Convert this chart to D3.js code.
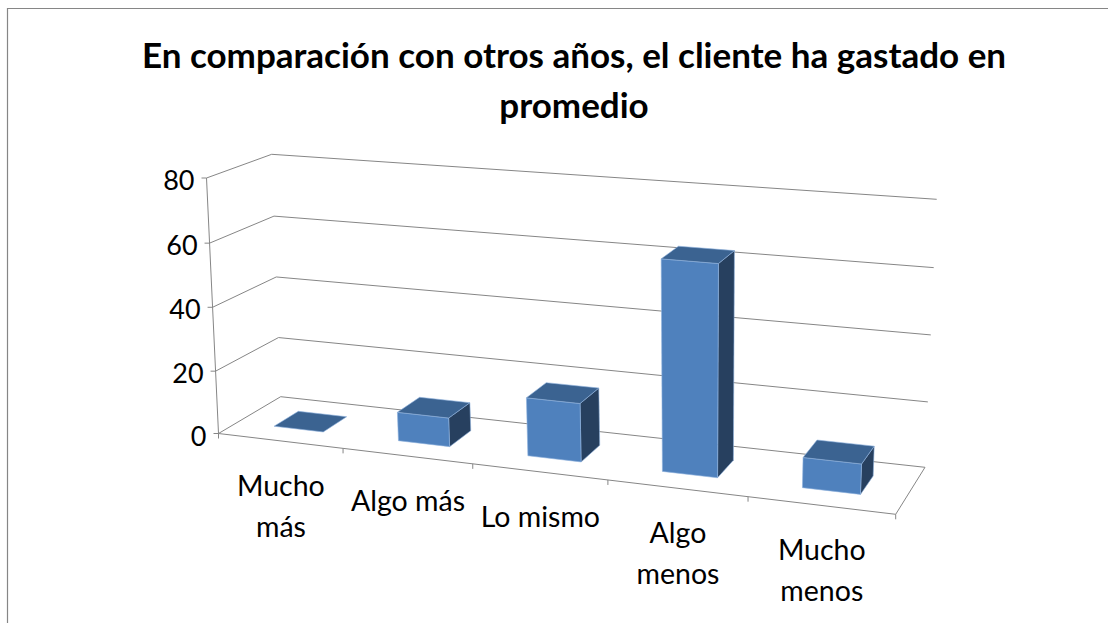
<!DOCTYPE html>
<html><head><meta charset="utf-8">
<script src="https://cdn.jsdelivr.net/npm/d3@7"></script>
<style>html,body{margin:0;padding:0;background:#fff}svg{display:block}text{font-family:Lato,"Open Sans",sans-serif;fill:#000}</style>
</head><body><svg id="c" width="1108" height="623"></svg>
<script>
const categories = ["Mucho más","Algo más","Lo mismo","Algo menos","Mucho menos"];
const categoryLines = [["Mucho","más"],["Algo más"],["Lo mismo"],["Algo","menos"],["Mucho","menos"]];
const values = [0,9,18,63.5,9];
const tickValues = [0,20,40,60,80];
const titleLines = ["En comparación con otros años, el cliente ha gastado en","promedio"];

const floorQuad = [[218.5,433.5],[895.7,514.3],[925,467.3],[280.7,396.7]];
const topQuad   = [[206.5,178],[909,231],[936.7,199.3],[271.7,154.3]];

function squareToQuad(q){
  const [[x0,y0],[x1,y1],[x2,y2],[x3,y3]]=q;
  const dx1=x1-x2,dx2=x3-x2,sx=x0-x1+x2-x3,dy1=y1-y2,dy2=y3-y2,sy=y0-y1+y2-y3;
  const den=dx1*dy2-dx2*dy1;
  const g=(sx*dy2-dx2*sy)/den,h=(dx1*sy-sx*dy1)/den;
  const a=x1-x0+g*x1,b=x3-x0+h*x3,c=x0,d=y1-y0+g*y1,e=y3-y0+h*y3,f=y0;
  return (u,v)=>{const w=g*u+h*v+1;return [(a*u+b*v+c)/w,(d*u+e*v+f)/w];};
}
const floorMap=squareToQuad(floorQuad), topMap=squareToQuad(topQuad);

const x=d3.scaleBand().domain(categories).range([0,1]).paddingInner(0.6).paddingOuter(0.3);
const band=d3.scaleBand().domain(categories).range([0,1]);
const depth=d3.scaleLinear().domain([0,1]).range([0.3,0.7]);
const y=d3.scaleLinear().domain(tickValues).range([0,.244,.494,.745,1]);
const warp=d3.scaleLinear().domain([0,.2,.4,.6,.8,1]).range([0,.206,.409,.609,.805,1]);
function P(u,d,val){
  const a=floorMap(warp(u),d),b=topMap(warp(u),d),t=y(val);
  return [a[0]+(b[0]-a[0])*t,a[1]+(b[1]-a[1])*t];
}
const svg=d3.select("#c");
const line=d3.line();
const gridColor="#868686";

svg.append("path").attr("d","M7.5,623V8.5H1108").attr("fill","none").attr("stroke","#868686").attr("stroke-width",1.2);

const tl=svg.append("g").attr("text-anchor","middle").attr("font-size",35);
titleLines.forEach((t,i)=>tl.append("text").attr("x",574).attr("y",68+i*50).style("font-weight",700).text(t));

const grid=svg.append("g").attr("fill","none").attr("stroke",gridColor).attr("stroke-width",1);
tickValues.forEach(v=>{
  grid.append("path").attr("d",line([P(0,0,v),P(0,1,v),P(1,1,v)]));
  const p=P(0,0,v);
  grid.append("path").attr("d",line([[p[0]-5,p[1]],p]));
  svg.append("text").attr("x",p[0]-12).attr("y",p[1]+12).attr("text-anchor","end").attr("font-size",27).text(v);
});
grid.append("path").attr("d",line([P(0,0,80),P(0,0,0),P(1,0,0),P(1,1,0)]));
d3.range(0,1.0001,0.2).forEach(u=>{
  const p=P(u,0,0);
  grid.append("path").attr("d",line([p,[p[0],p[1]+5]]));
});

const bars=svg.append("g").attr("stroke","#8fb2de").attr("stroke-width",0.6).attr("stroke-linejoin","round");
categories.forEach((c,i)=>{
  const u0=x(c),u1=u0+x.bandwidth(),d0=depth(0),d1=depth(1),v=values[i];
  if(v>0){
    bars.append("path").attr("fill","#27405f").attr("d",line([P(u1,d0,0),P(u1,d1,0),P(u1,d1,v),P(u1,d0,v)])+"Z");
    bars.append("path").attr("fill","#4f81bd").attr("d",line([P(u0,d0,0),P(u1,d0,0),P(u1,d0,v),P(u0,d0,v)])+"Z");
  }
  bars.append("path").attr("fill","#3b6391").attr("d",line([P(u0,d0,v),P(u1,d0,v),P(u1,d1,v),P(u0,d1,v)])+"Z");
});

categories.forEach((c,i)=>{
  const p=P(band(c)+band.bandwidth()/2,0,0);
  categoryLines[i].forEach((t,j)=>svg.append("text").attr("x",p[0]+1).attr("y",p[1]+55+j*41)
    .attr("text-anchor","middle").attr("font-size",28.5).text(t));
});
</script></body></html>
